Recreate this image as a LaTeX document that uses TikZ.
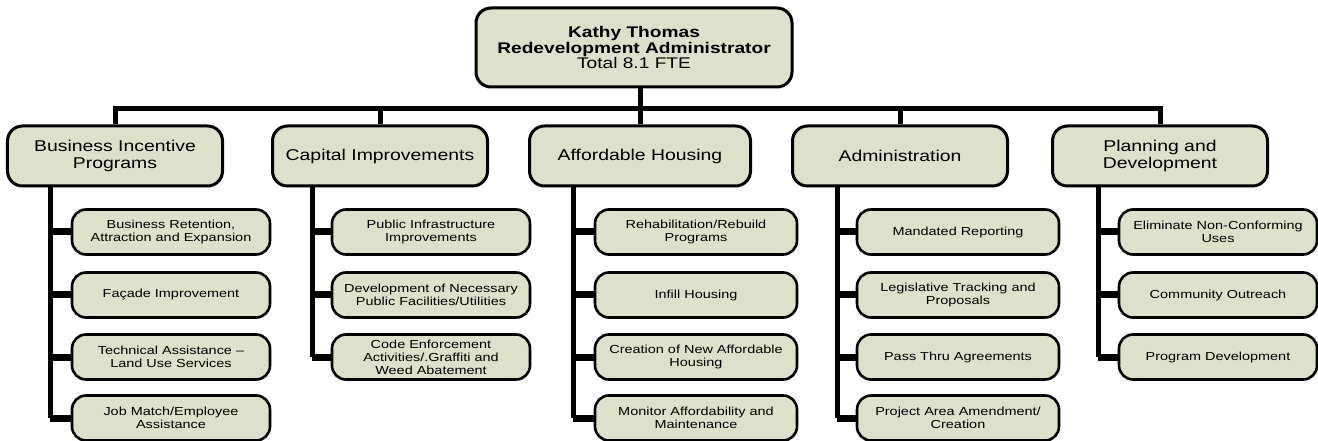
\documentclass[tikz,border=0pt]{standalone}
\usepackage{fontspec}
\setmainfont{Liberation Sans}[FakeStretch=1.24]
\usetikzlibrary{backgrounds}
\definecolor{boxfill}{RGB}{221,224,203}
\tikzset{
  topbox/.style={draw, fill=boxfill, rounded corners=15bp, line width=3bp,
    minimum width=316bp, minimum height=79bp, align=center, inner sep=0pt,
    font=\fontsize{15.5}{15.4}\selectfont},
  lonebox/.style={draw, fill=boxfill, rounded corners=15bp, line width=3bp,
    minimum width=215bp, minimum height=60bp, align=center, inner sep=0pt,
    font=\fontsize{15.7}{16.5}\selectfont},
  chbox/.style={draw, fill=boxfill, rounded corners=14bp, line width=2.6bp,
    minimum width=198bp, minimum height=45bp, align=center, inner sep=0pt,
    font=\fontsize{11.7}{13.2}\selectfont},
  wide/.style={minimum width=202bp},
  trunk/.style={line width=5bp, line join=miter},
  stub/.style={line width=7bp},
}
\begin{document}
\begin{tikzpicture}[x=1bp,y=-1bp]
\useasboundingbox (0,0) rectangle (1318,441);
% top
\node[topbox] (top) at (634,47.5) {\textbf{Kathy Thomas}\\\textbf{Redevelopment Administrator}\\Total 8.1 FTE};
% level 1
\node[lonebox] (b1) at (115,156) {Business Incentive\\Programs};
\node[lonebox] (b2) at (380,156) {Capital Improvements};
\node[lonebox, minimum width=221bp] (b3) at (640,156) {Affordable Housing};
\node[lonebox] (b4) at (900,156) {Administration};
\node[lonebox] (b5) at (1160,156) {Planning and\\Development};
% children
\node[chbox] (c11) at (171,232) {Business Retention,\\Attraction and Expansion};
\node[chbox] (c12) at (171,295) {Façade Improvement};
\node[chbox] (c13) at (171,357) {Technical Assistance –\\Land Use Services};
\node[chbox] (c14) at (171,418) {Job Match/Employee\\Assistance};
\node[chbox] (c21) at (431,232) {Public Infrastructure\\Improvements};
\node[chbox] (c22) at (431,295) {Development of Necessary\\Public Facilities/Utilities};
\node[chbox] (c23) at (431,357) {Code Enforcement\\Activities/.Graffiti and\\Weed Abatement};
\node[chbox, wide] (c31) at (696,232) {Rehabilitation/Rebuild\\Programs};
\node[chbox, wide] (c32) at (696,295) {Infill Housing};
\node[chbox, wide] (c33) at (696,357) {Creation of New Affordable\\Housing};
\node[chbox, wide] (c34) at (696,418) {Monitor Affordability and\\Maintenance};
\node[chbox, wide] (c41) at (958,232) {Mandated Reporting};
\node[chbox, wide] (c42) at (958,295) {Legislative Tracking and\\Proposals};
\node[chbox, wide] (c43) at (958,357) {Pass Thru Agreements};
\node[chbox, wide] (c44) at (958,418) {Project Area Amendment/\\Creation};
\node[chbox] (c51) at (1218,232) {Eliminate Non-Conforming\\Uses};
\node[chbox] (c52) at (1218,295) {Community Outreach};
\node[chbox] (c53) at (1218,357) {Program Development};
% trunk positions
\coordinate (bar) at (640,109);
\coordinate (t1) at (50,0);
\coordinate (t2) at (312,0);
\coordinate (t3) at (573,0);
\coordinate (t4) at (837,0);
\coordinate (t5) at (1098,0);
\begin{pgfonlayer}{background}
  \draw[trunk] (b3.north |- top.south) -- (b3.north);
  \draw[trunk] (b1.north) |- (bar) -| (b5.north);
  \draw[trunk] (b2.north) -- (b2.north |- bar);
  \draw[trunk] (b4.north) -- (b4.north |- bar);
  % level-1 trunks
  \draw[trunk] (t1 |- b1.south) -- (t1 |- c14.west);
  \draw[trunk] (t2 |- b2.south) -- (t2 |- c23.west);
  \draw[trunk] (t3 |- b3.south) -- (t3 |- c34.west);
  \draw[trunk] (t4 |- b4.south) -- (t4 |- c44.west);
  \draw[trunk] (t5 |- b5.south) -- (t5 |- c53.west);
  % stubs
  \foreach \c in {c11,c12,c13,c14} \draw[stub] (t1 |- \c.west) -- (\c.west);
  \foreach \c in {c21,c22,c23} \draw[stub] (t2 |- \c.west) -- (\c.west);
  \foreach \c in {c31,c32,c33,c34} \draw[stub] (t3 |- \c.west) -- (\c.west);
  \foreach \c in {c41,c42,c43,c44} \draw[stub] (t4 |- \c.west) -- (\c.west);
  \foreach \c in {c51,c52,c53} \draw[stub] (t5 |- \c.west) -- (\c.west);
\end{pgfonlayer}
\end{tikzpicture}
\end{document}
